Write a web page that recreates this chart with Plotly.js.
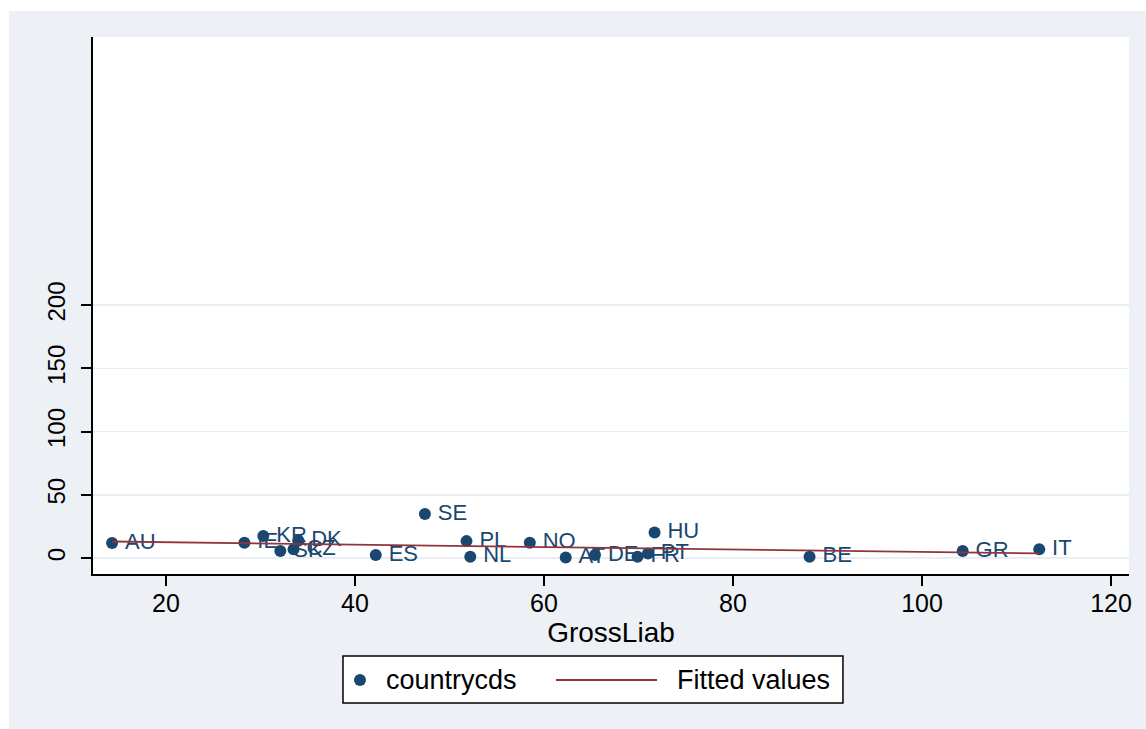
<!DOCTYPE html>
<html>
<head>
<meta charset="utf-8">
<script src="https://cdn.plot.ly/plotly-3.0.1.min.js"></script>
<style>
  html, body { margin: 0; padding: 0; background: #ffffff; width: 1146px; height: 729px; overflow: hidden; }
  #chart { position: absolute; left: 9px; top: 11px; width: 1137px; height: 718px; }
</style>
</head>
<body>
<div id="chart"></div>
<script>
// Data
const countries = ["AU","IE","KR","SK","CZ","DK","ES","SE","PL","NL","NO","AT","DE","FR","PT","HU","BE","GR","IT"];
const grossLiab = [14.3, 28.3, 30.3, 32.1, 33.5, 34.0, 42.2, 47.4, 51.8, 52.2, 58.5, 62.3, 65.4, 69.9, 71.0, 71.7, 88.1, 104.3, 112.4];
const countrycds = [11.9, 12.1, 17.4, 5.5, 6.9, 13.7, 2.4, 34.8, 13.4, 1.0, 12.1, 0.5, 2.4, 1.0, 3.7, 20.3, 1.0, 5.5, 6.9];
const xTicks = [20, 40, 60, 80, 100, 120];
const yTicks = [0, 50, 100, 150, 200];
const legendLabels = ["countrycds", "Fitted values"];

// Linear fit (OLS) of countrycds on GrossLiab
const n = grossLiab.length;
const mx = grossLiab.reduce((a, b) => a + b, 0) / n;
const my = countrycds.reduce((a, b) => a + b, 0) / n;
let sxy = 0, sxx = 0;
for (let i = 0; i < n; i++) {
  sxy += (grossLiab[i] - mx) * (countrycds[i] - my);
  sxx += (grossLiab[i] - mx) * (grossLiab[i] - mx);
}
const slope = sxy / sxx;
const intercept = my - slope * mx;
const fitX = [Math.min(...grossLiab), Math.max(...grossLiab)];
const fitY = fitX.map(x => intercept + slope * x);

const navy = "#1a476f";
const maroon = "#90353b";
const FONT = "Liberation Sans, Arial, sans-serif";

const traces = [
  {
    type: "scatter",
    mode: "markers+text",
    name: legendLabels[0],
    x: grossLiab,
    y: countrycds,
    text: countries,
    texttemplate: "\u2009%{text}",
    textposition: "middle right",
    textfont: { family: FONT, size: 22, color: navy },
    marker: { color: navy, size: 12, line: { width: 0 } },
    cliponaxis: false,
    showlegend: false,
    hoverinfo: "x+y+text"
  },
  {
    type: "scatter",
    mode: "lines",
    name: legendLabels[1],
    x: fitX,
    y: fitY,
    line: { color: maroon, width: 1.8 },
    showlegend: false
  }
];

// manual legend geometry (paper coords relative to plot area)
const legY = -0.1974;
const layout = {
  width: 1137,
  height: 718,
  paper_bgcolor: "#edf1f6",
  plot_bgcolor: "#ffffff",
  margin: { l: 84, r: 17, t: 26, b: 155, pad: 0 },
  font: { family: FONT, color: "#000000" },
  showlegend: false,
  xaxis: {
    range: [12.28, 121.9],
    tickmode: "array",
    tickvals: xTicks,
    ticktext: xTicks.map(String),
    ticks: "outside",
    ticklen: 10,
    tickwidth: 2,
    tickcolor: "#000000",
    showline: true,
    linecolor: "#000000",
    linewidth: 2,
    showgrid: false,
    zeroline: false,
    tickfont: { family: FONT, size: 25, color: "#000000" },
    ticklabelstandoff: -4,
    automargin: false,
    title: { text: "GrossLiab", font: { family: FONT, size: 28, color: "#000000" }, standoff: 0 }
  },
  yaxis: {
    range: [-12.6, 412],
    tickmode: "array",
    tickvals: yTicks,
    ticktext: yTicks.map(String),
    ticks: "outside",
    ticklen: 10,
    tickwidth: 2,
    tickcolor: "#000000",
    tickangle: -90,
    showline: true,
    linecolor: "#000000",
    linewidth: 2,
    showgrid: true,
    gridcolor: "#eaeef3",
    gridwidth: 1.5,
    zeroline: false,
    tickfont: { family: FONT, size: 24, color: "#000000" },
    ticklabelstandoff: 6
  },
  shapes: [
    { type: "rect", xref: "paper", yref: "paper", x0: 0.2413, x1: 0.7239, y0: -0.2402, y1: -0.1527,
      fillcolor: "#ffffff", line: { color: "#000000", width: 1.5 } },
    { type: "circle", xref: "paper", yref: "paper", xsizemode: "pixel", ysizemode: "pixel",
      xanchor: 0.2577, yanchor: legY, x0: -6, x1: 6, y0: -6, y1: 6,
      fillcolor: navy, line: { width: 0 } },
    { type: "line", xref: "paper", yref: "paper", x0: 0.4469, x1: 0.5444, y0: legY, y1: legY,
      line: { color: maroon, width: 1.8 } }
  ],
  annotations: [
    { xref: "paper", yref: "paper", x: 0.2810, y: legY, xanchor: "left", yanchor: "middle",
      text: legendLabels[0], showarrow: false, font: { family: FONT, size: 27, color: "#000000" } },
    { xref: "paper", yref: "paper", x: 0.5620, y: legY, xanchor: "left", yanchor: "middle",
      text: legendLabels[1], showarrow: false, font: { family: FONT, size: 27, color: "#000000" } }
  ]
};

Plotly.newPlot("chart", traces, layout, { displayModeBar: false, staticPlot: true });
</script>
</body>
</html>
